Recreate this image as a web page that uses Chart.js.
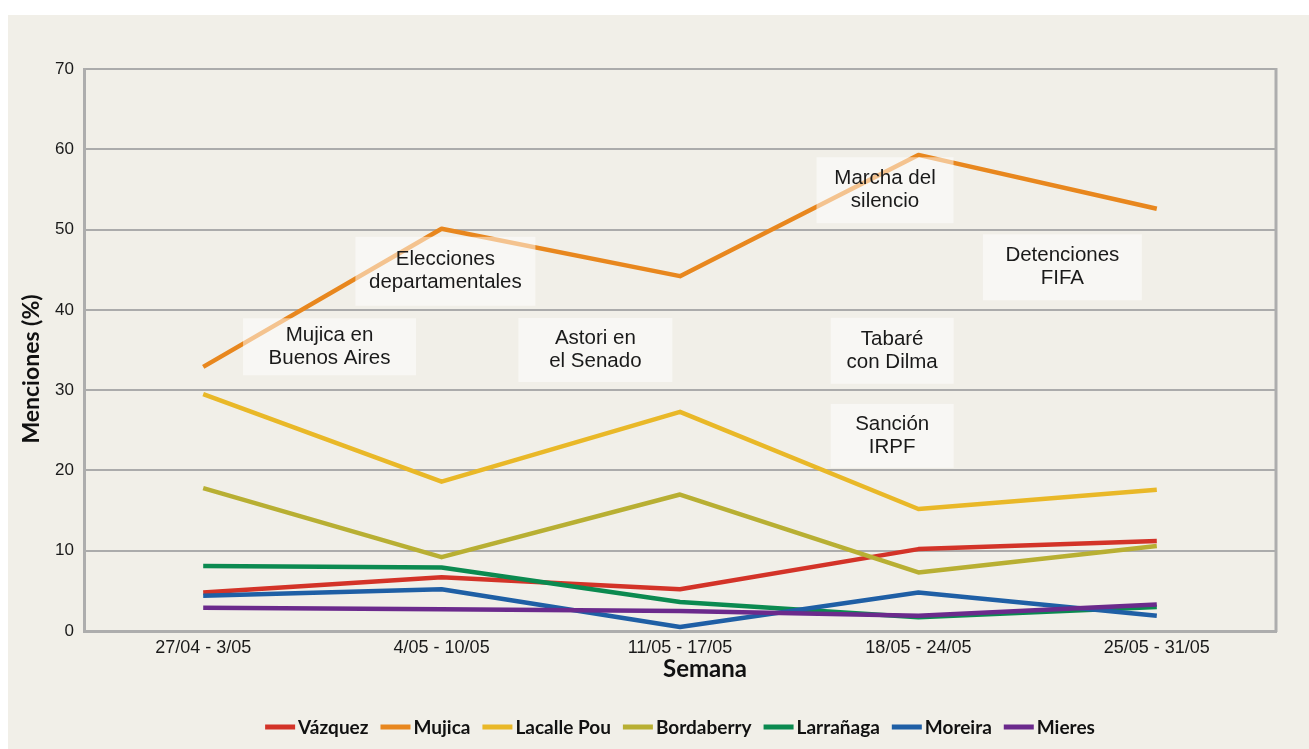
<!DOCTYPE html>
<html>
<head>
<meta charset="utf-8">
<script src="https://cdn.jsdelivr.net/npm/chart.js@4.4.0/dist/chart.umd.min.js"></script>
<style>
  html, body { margin: 0; padding: 0; background: #fff; }
  #wrap { position: relative; width: 1309px; height: 749px; }
</style>
</head>
<body>
<div id="wrap"><canvas id="chart"></canvas></div>
<script>
// week categories (x axis)
const weeks = ["27/04 - 3/05", "4/05 - 10/05", "11/05 - 17/05", "18/05 - 24/05", "25/05 - 31/05"];

// mentions per candidate (%)
const vazquez    = [4.8, 6.7, 5.2, 10.2, 11.2];
const mujica     = [32.9, 50.1, 44.2, 59.3, 52.6];
const lacallePou = [29.5, 18.6, 27.3, 15.2, 17.6];
const bordaberry = [17.8, 9.2, 17.0, 7.3, 10.6];
const larranaga  = [8.1, 7.9, 3.6, 1.7, 3.0];
const moreira    = [4.4, 5.2, 0.5, 4.8, 1.9];
const mieres     = [2.9, 2.7, 2.5, 1.9, 3.3];

const names  = ["Vázquez", "Mujica", "Lacalle Pou", "Bordaberry", "Larrañaga", "Moreira", "Mieres"];
const series = [vazquez, mujica, lacallePou, bordaberry, larranaga, moreira, mieres];
const colors = ["#d33328", "#e8871e", "#e9b828", "#b8af33", "#0b8a50", "#1f5fa5", "#6b2a8c"];

const yMin = 0, yMax = 70, yStep = 10;

// event labels
const events = [
  ["Mujica en", "Buenos Aires"],
  ["Elecciones", "departamentales"],
  ["Astori en", "el Senado"],
  ["Marcha del", "silencio"],
  ["Detenciones", "FIFA"],
  ["Tabaré", "con Dilma"],
  ["Sanción", "IRPF"]
];
// where each label sits: [category index, value]
const eventAt = [[0.53, 35.4], [1.016, 44.8], [1.645, 35.0], [2.86, 54.9], [3.604, 45.3], [2.89, 34.9], [2.89, 24.3]];
// box sizes in px
const eventBox = [[173, 57], [180, 69], [154, 64], [137, 66], [159, 66], [123, 66], [123, 64]];

const tickFont = "'Liberation Sans', Arial, sans-serif";
const boldFont = "Lato, 'Open Sans', sans-serif";

const extras = {
  id: "extras",
  beforeDraw(chart) {
    const ctx = chart.ctx;
    ctx.save();
    ctx.fillStyle = "#ffffff";
    ctx.fillRect(0, 0, chart.width, chart.height);
    ctx.fillStyle = "#f1efe8";
    ctx.fillRect(8, 15, chart.width - 8, chart.height - 15);
    ctx.restore();
  },
  beforeDatasetsDraw(chart) {
    // right edge of the frame
    const a = chart.chartArea, ctx = chart.ctx;
    ctx.save();
    ctx.strokeStyle = "#adadad";
    ctx.lineWidth = 3;
    ctx.beginPath();
    ctx.moveTo(a.right, a.top - 1);
    ctx.lineTo(a.right, a.bottom + 1);
    ctx.stroke();
    ctx.restore();
  },
  afterDatasetsDraw(chart) {
    const ctx = chart.ctx, xs = chart.scales.x, ys = chart.scales.y;
    ctx.save();
    events.forEach((lines, i) => {
      const cx = xs.getPixelForValue(eventAt[i][0]);
      const cy = ys.getPixelForValue(eventAt[i][1]);
      const [w, h] = eventBox[i];
      ctx.fillStyle = "rgba(255,255,255,0.5)";
      ctx.fillRect(cx - w / 2, cy - h / 2, w, h);
      ctx.fillStyle = "#1a1a1a";
      ctx.font = "20.5px " + tickFont;
      ctx.textAlign = "center";
      ctx.textBaseline = "middle";
      const lh = 23;
      lines.forEach((t, j) => {
        ctx.fillText(t, cx, cy + (j - (lines.length - 1) / 2) * lh);
      });
    });
    ctx.restore();
  },
  afterDraw(chart) {
    const ctx = chart.ctx, a = chart.chartArea;
    ctx.save();
    ctx.fillStyle = "#111";
    // axis titles
    ctx.font = "bold 23px " + boldFont;
    ctx.textAlign = "center";
    ctx.textBaseline = "middle";
    ctx.translate(32, 369);
    ctx.rotate(-Math.PI / 2);
    ctx.fillText("Menciones (%)", 0, 0);
    ctx.setTransform(1, 0, 0, 1, 0, 0);
    ctx.font = "bold 24px " + boldFont;
    ctx.fillText("Semana", 705, 669);

    // legend
    ctx.font = "bold 19px " + boldFont;
    const boxW = 30, gap = 3, space = 12;
    const widths = names.map(n => ctx.measureText(n).width);
    let total = 0;
    widths.forEach(w => total += boxW + gap + w);
    total += space * (names.length - 1);
    let x = (a.left + a.right) / 2 - total / 2;
    const y = 727;
    ctx.textAlign = "left";
    names.forEach((n, i) => {
      ctx.fillStyle = colors[i];
      ctx.fillRect(x, y - 2.5, boxW, 5);
      x += boxW + gap;
      ctx.fillStyle = "#111";
      ctx.fillText(n, x, y + 1);
      x += widths[i] + space;
    });
    ctx.restore();
  }
};

const ctx = document.getElementById("chart");
ctx.width = 1309;
ctx.height = 749;

new Chart(ctx, {
  type: "line",
  data: {
    labels: weeks,
    datasets: series.map((d, i) => ({
      label: names[i],
      data: d,
      borderColor: colors[i],
      backgroundColor: colors[i],
      borderWidth: 4.5,
      borderJoinStyle: "round",
      pointRadius: 0,
      tension: 0,
      fill: false,
      order: names.length - i
    }))
  },
  options: {
    responsive: false,
    animation: false,
    devicePixelRatio: 1,
    layout: { padding: { top: 69, right: 33, bottom: 58, left: 0 } },
    plugins: {
      legend: { display: false },
      tooltip: { enabled: false }
    },
    scales: {
      x: {
        offset: true,
        grid: { display: false, drawTicks: false },
        border: { display: true, color: "#adadad", width: 3 },
        ticks: { padding: 6, color: "#1a1a1a", font: { family: tickFont, size: 18 }, maxRotation: 0 },
        afterFit(s) { s.height = 60; }
      },
      y: {
        min: yMin,
        max: yMax,
        grid: { color: "#ababab", lineWidth: 2, drawTicks: false },
        border: { display: true, color: "#adadad", width: 3 },
        ticks: { stepSize: yStep, padding: 10, color: "#1a1a1a", font: { family: tickFont, size: 17 } },
        afterFit(s) { s.width = 84; }
      }
    }
  },
  plugins: [extras]
});
</script>
</body>
</html>
